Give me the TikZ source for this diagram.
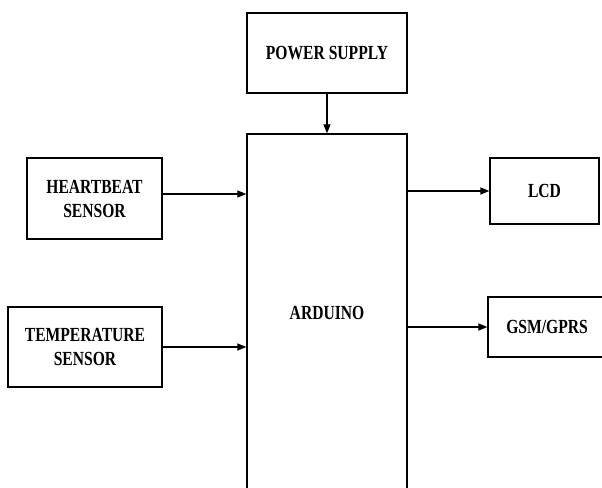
\documentclass[tikz,border=0pt]{standalone}
\usepackage{fontspec}
\newfontfamily\blockfont{Liberation Serif}[FakeStretch=0.78]
\usepackage{tikz}
\usetikzlibrary{arrows.meta}
\usetikzlibrary{positioning}

\tikzset{
  block/.style={draw, line width=1.3pt, align=center, inner sep=0pt,
    font=\blockfont\bfseries\fontsize{20}{24}\selectfont},
  link/.style={line width=1.2pt, -{Triangle[length=9pt,width=7pt]}}
}

\begin{document}
\begin{tikzpicture}[x=1pt, y=-1pt]
    \useasboundingbox (0,0) rectangle (602,487);
    \clip (0,0) rectangle (602,487);
    \node[block, minimum width=160pt, minimum height=80pt] (power) at (327, 53) {POWER SUPPLY};
    \node[block, minimum width=160pt, minimum height=358pt] (ard) at (327, 313) {ARDUINO};
    \node[block, minimum width=135pt, minimum height=81pt] (heart) at (94.5, 198.5) {HEARTBEAT\\SENSOR};
    \node[block, minimum width=154pt, minimum height=80pt] (temp) at (85, 347) {TEMPERATURE\\SENSOR};
    \node[block, minimum width=109pt, minimum height=66pt] (lcd) at (544.5, 191) {LCD};
    \node[block, minimum width=118pt, minimum height=60pt] (gsm) at (547, 327) {GSM/GPRS};

    \draw[link] (power) -- (ard);
    \draw[link] ([yshift=4.5pt]heart.east) -- ([yshift=4.5pt]heart.east -| ard.west);
    \draw[link] (temp) -- (temp -| ard.west);
    \draw[link] (ard.east |- lcd) -- (lcd);
    \draw[link] (ard.east |- gsm) -- (gsm);
\end{tikzpicture}
\end{document}
